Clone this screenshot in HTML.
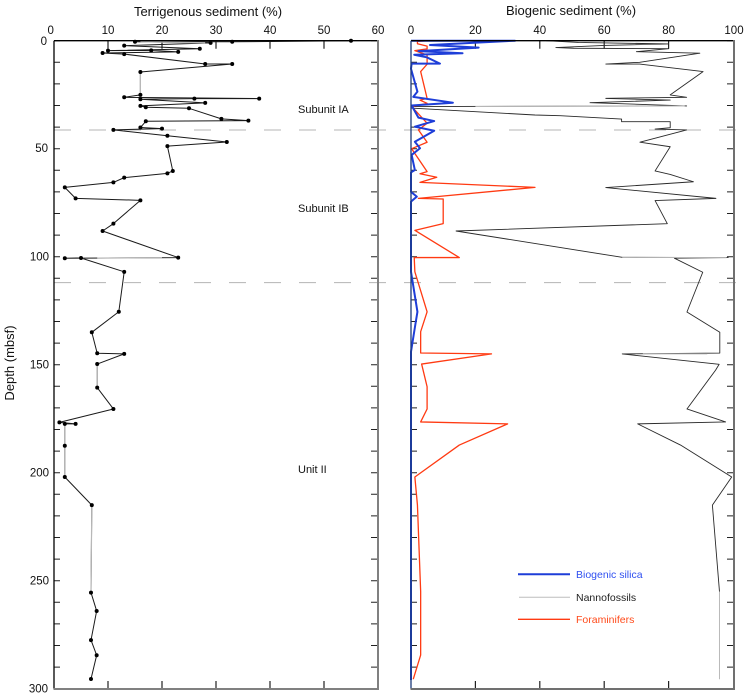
<!DOCTYPE html>
<html><head><meta charset="utf-8"><style>
html,body{margin:0;padding:0;background:#fff;}
svg{display:block;}
text{font-family:"Liberation Sans",Arial,sans-serif;}
</style></head><body>
<svg width="744" height="695" viewBox="0 0 744 695" xmlns="http://www.w3.org/2000/svg">
<rect width="744" height="695" fill="#fff"/>
<!-- dashed unit boundaries -->
<line x1="54" y1="130" x2="744" y2="130" stroke="#b4b4b4" stroke-width="1" stroke-dasharray="17 18"/>
<line x1="54" y1="282.6" x2="744" y2="282.6" stroke="#b4b4b4" stroke-width="1" stroke-dasharray="17 18"/>

<!-- y ticks (scaled in depth) -->
<g transform="translate(0,40.7) scale(1,2.16)" fill="none" stroke="#222" stroke-width="1">
<path vector-effect="non-scaling-stroke" d="M54 0h6M54 10h6M54 20h6M54 30h6M54 40h6M54 50h6M54 60h6M54 70h6M54 80h6M54 90h6M54 100h6M54 110h6M54 120h6M54 130h6M54 140h6M54 150h6M54 160h6M54 170h6M54 180h6M54 190h6M54 200h6M54 210h6M54 220h6M54 230h6M54 240h6M54 250h6M54 260h6M54 270h6M54 280h6M54 290h6M54 300h6"/>
<path vector-effect="non-scaling-stroke" d="M378 0h-7M378 10h-7M378 20h-7M378 30h-7M378 40h-7M378 50h-7M378 60h-7M378 70h-7M378 80h-7M378 90h-7M378 100h-7M378 110h-7M378 120h-7M378 130h-7M378 140h-7M378 150h-7M378 160h-7M378 170h-7M378 180h-7M378 190h-7M378 200h-7M378 210h-7M378 220h-7M378 230h-7M378 240h-7M378 250h-7M378 260h-7M378 270h-7M378 280h-7M378 290h-7M378 300h-7"/>
<path vector-effect="non-scaling-stroke" d="M411 0h6M411 10h6M411 20h6M411 30h6M411 40h6M411 50h6M411 60h6M411 70h6M411 80h6M411 90h6M411 100h6M411 110h6M411 120h6M411 130h6M411 140h6M411 150h6M411 160h6M411 170h6M411 180h6M411 190h6M411 200h6M411 210h6M411 220h6M411 230h6M411 240h6M411 250h6M411 260h6M411 270h6M411 280h6M411 290h6M411 300h6"/>
<path vector-effect="non-scaling-stroke" d="M734 0h-7M734 10h-7M734 20h-7M734 30h-7M734 40h-7M734 50h-7M734 60h-7M734 70h-7M734 80h-7M734 90h-7M734 100h-7M734 110h-7M734 120h-7M734 130h-7M734 140h-7M734 150h-7M734 160h-7M734 170h-7M734 180h-7M734 190h-7M734 200h-7M734 210h-7M734 220h-7M734 230h-7M734 240h-7M734 250h-7M734 260h-7M734 270h-7M734 280h-7M734 290h-7M734 300h-7"/>
</g>
<!-- x ticks -->
<path fill="none" stroke="#222" stroke-width="1.2" d="M108 40.7v8M162 40.7v8M216 40.7v8M270 40.7v8M324 40.7v8M108 689v-8M162 689v-8M216 689v-8M270 689v-8M324 689v-8M475.4 40.7v8M539.8 40.7v8M604.2 40.7v8M668.6 40.7v8M475.4 689v-8M539.8 689v-8M604.2 689v-8M668.6 689v-8"/>

<!-- Terrigenous data -->
<g transform="translate(54,40.7) scale(5.4,2.16)" fill="none">
<path vector-effect="non-scaling-stroke" stroke="#1a1a1a" stroke-width="1" stroke-linejoin="round" d="M55 0L33 0.5L15 0.5L29 1L13 2.3L27 3.7L10 4.6L18 4.5L23 5.2L9 5.7L13 6.2L28 10.8L33 10.8L16 14.5L16 25.1L13 26.2L38 26.8L26 26.8L16 27.1L28 28.8L16 30.2L17 30.8L25 31.3L31 36.2L36 37L17 37.3L16 40.2L20 40.7L11 41.3L21 44L32 46.9L21 48.8L22 60.3L21 61.4L13 63.4L11 65.6L2 67.9L4 73L16 73.9L11 84.7L9 88.1L23 100.4L2 100.7L5 100.6L13 107L12 125.5L7 135L8 144.7L13 145L8 149.7L8 160.6L11 170.5L1 176.7L4 177.4L2 177.4L2 187.5L2 202L7 215L6.85 255.5L7.9 264L6.85 277.5L7.9 284.5L6.85 295.5"/>
<path vector-effect="non-scaling-stroke" stroke="#b8b8b8" stroke-width="1.2" d="M16 14.6L16 25M8 149.8L8 160.5M2 177.5L2 201.9M7 215.2L6.85 255.3M16 0.5L28 0.95M20 100.45L8 100.65"/>
<path vector-effect="non-scaling-stroke" stroke="#000" stroke-width="4" stroke-linecap="round" d="M55 0h0M33 0.5h0M15 0.5h0M29 1h0M13 2.3h0M27 3.7h0M10 4.6h0M18 4.5h0M23 5.2h0M9 5.7h0M13 6.2h0M28 10.8h0M33 10.8h0M16 14.5h0M16 25.1h0M13 26.2h0M38 26.8h0M26 26.8h0M16 27.1h0M28 28.8h0M16 30.2h0M17 30.8h0M25 31.3h0M31 36.2h0M36 37h0M17 37.3h0M16 40.2h0M20 40.7h0M11 41.3h0M21 44h0M32 46.9h0M21 48.8h0M22 60.3h0M21 61.4h0M13 63.4h0M11 65.6h0M2 67.9h0M4 73h0M16 73.9h0M11 84.7h0M9 88.1h0M23 100.4h0M2 100.7h0M5 100.6h0M13 107h0M12 125.5h0M7 135h0M8 144.7h0M13 145h0M8 149.7h0M8 160.6h0M11 170.5h0M1 176.7h0M4 177.4h0M2 177.4h0M2 187.5h0M2 202h0M7 215h0M6.85 255.5h0M7.9 264h0M6.85 277.5h0M7.9 284.5h0M6.85 295.5h0"/>
</g>

<!-- Biogenic data -->
<g transform="translate(411,40.7) scale(3.22,2.16)" fill="none" stroke-linejoin="round">
<path vector-effect="non-scaling-stroke" stroke="#2a2a2a" stroke-width="0.9" d="M42 0L52 0.8L80 1.5L60 2.2L45 3.2L50.5 3.5L80 3.7L70 5.1L89.7 5.8L71 10L60.5 10.8L71 10.8L90.7 14.3L80.5 25.1L85.6 26.2L60.5 26.7L80.5 27.5L55.6 28.7L85.6 30.2L0 30.5L0 31.2L38.5 34.4L46.3 34.7L65.4 36.3L65.4 37.5L80.5 37.5L80.5 40.3L75.8 40.9L85.6 41.3L71.1 47L80.5 49.1L75.8 60.3L80.5 61.9L87.7 65.3L60.5 68L94.7 73L75.8 74L79.6 84.7L14 88.1L65.6 100.3L98.5 100.4L81.8 100.7L90.6 107.2L85.7 125.6L95.9 135L95.9 144.6L65.6 145L95.7 149.8L94.6 152.5L85.7 170.5L97.7 176.5L70.4 177.4L83.7 187.2L99.6 202L93.6 215L95.8 255"/>
<path vector-effect="non-scaling-stroke" stroke="#b8b8b8" stroke-width="1" d="M95.8 255L95.8 295.6M20 30.45L85 30.25M65.6 100.32L98 100.4M72 145L92 145"/>
<path vector-effect="non-scaling-stroke" stroke="#ff3a12" stroke-width="1.3" d="M5 0L2 0.3L2 1.4L5 2.5L5 3.8L1.2 4.6L5 6.6L5 10.9L3 14.3L5 26.7L2.8 27.5L5 29L0.2 30.5L5 38.2L2.3 41.3L5 47L0.2 50L5 60.6L2.8 61.6L8 63.2L2.8 65.6L38.5 67.9L2.3 73L10 73.3L10 84.7L1.2 87.8L15 100.4L1 100.4L1.2 107L5 125.5L3 134.7L3 144.6L25 145L3.3 149.7L5 160.2L5 170.5L3 176.5L30 177.4L15 187.2L1.2 202L2 215L3 255L3 284.4L0.7 295.6"/>
<path vector-effect="non-scaling-stroke" stroke="#1e3ed8" stroke-width="2" d="M0 0L32.3 0L5.9 2L21 3.2L2.3 4.8L16 5.8L1 6.5L4.9 7.7L9 10.6L0.2 10.6L0 13L2 23.6L0.7 26L13 28.7L0.2 30L2.3 35.6L7.2 37.2L1.2 39.8L7.2 41.7L1.2 46.8L2.8 49.8L0.2 52.9L1.2 59.9L0 61L0 70L1.8 72.2L0 74.5L0 107L2 125.5L1.5 130L0 144L0 296"/>
</g>

<!-- frames -->
<path fill="none" stroke="#000" stroke-width="1.3" d="M54 40.7H378M54 40.7V689"/>
<path fill="none" stroke="#808080" stroke-width="2" d="M378 40V689.5M53.5 689H379"/>
<path fill="none" stroke="#000" stroke-width="1.3" d="M411 40.7H734"/>
<path fill="none" stroke="#1c3a7a" stroke-width="1.3" d="M411 40.7V689"/>
<path fill="none" stroke="#707070" stroke-width="2" d="M734 40V689.5M410.5 689H735"/>

<!-- legend -->
<line x1="518" y1="574.3" x2="570" y2="574.3" stroke="#1e3ed8" stroke-width="2"/>
<line x1="519" y1="597.3" x2="570" y2="597.3" stroke="#bdbdbd" stroke-width="1"/>
<line x1="518" y1="619.3" x2="570" y2="619.3" stroke="#ff3a12" stroke-width="1.3"/>
<text x="576" y="578" font-size="10.5" fill="#3050f0">Biogenic silica</text>
<text x="576" y="601" font-size="10.5" fill="#222">Nannofossils</text>
<text x="576" y="623" font-size="10.5" fill="#ff4a1a">Foraminifers</text>

<!-- titles -->
<text x="208" y="16" font-size="13" text-anchor="middle" fill="#111">Terrigenous sediment (%)</text>
<text x="571" y="15" font-size="13" text-anchor="middle" fill="#111">Biogenic sediment (%)</text>
<text transform="translate(14,363) rotate(-90)" font-size="13" text-anchor="middle" fill="#111">Depth (mbsf)</text>

<!-- top tick labels -->
<g font-size="11.5" text-anchor="middle" fill="#111">
<text x="50.7" y="34">0</text><text x="108" y="34">10</text><text x="162" y="34">20</text><text x="216" y="34">30</text><text x="270" y="34">40</text><text x="324" y="34">50</text><text x="378" y="34">60</text>
<text x="411" y="34">0</text><text x="475.4" y="34">20</text><text x="539.8" y="34">40</text><text x="604.2" y="34">60</text><text x="668.6" y="34">80</text><text x="734" y="34">100</text>
</g>
<!-- y tick labels -->
<g font-size="11.5" text-anchor="end" fill="#111">
<text x="47" y="45">0</text><text x="48" y="152">50</text><text x="49" y="260.5">100</text><text x="49" y="368.5">150</text><text x="49" y="476.5">200</text><text x="49" y="584.5">250</text><text x="48" y="692.5">300</text>
</g>

<!-- unit labels -->
<g font-size="11" fill="#111">
<text x="298" y="113">Subunit IA</text>
<text x="298" y="212">Subunit IB</text>
<text x="298" y="473">Unit II</text>
</g>
</svg>
</body></html>
